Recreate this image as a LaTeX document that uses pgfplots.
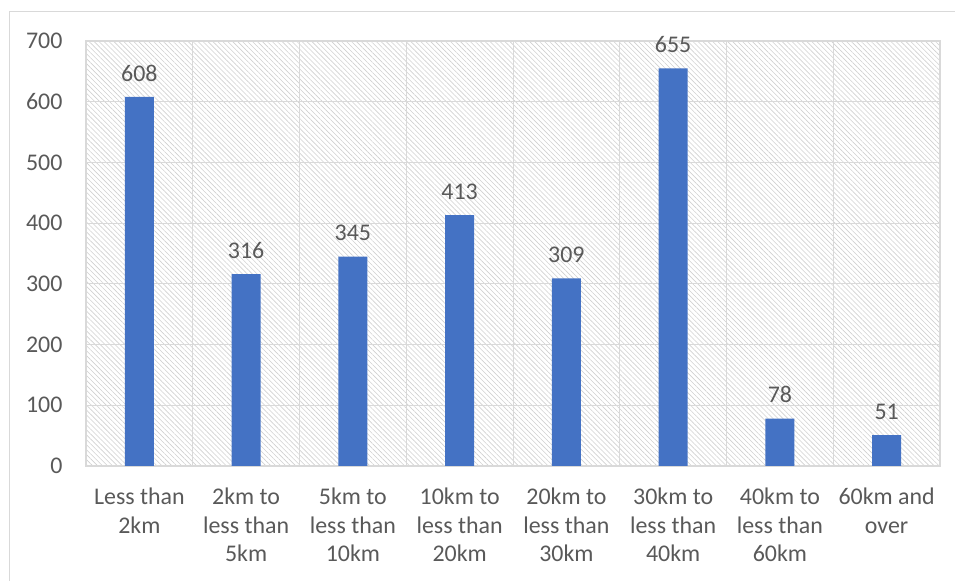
\documentclass[border=0pt]{standalone}
\usepackage{fontspec}
\setmainfont{Carlito}
\usepackage{pgfplots}
\pgfplotsset{compat=1.18}
\usetikzlibrary{patterns.meta}
\definecolor{barblue}{HTML}{4472C4}
\definecolor{txt}{HTML}{595959}
\definecolor{gridc}{HTML}{D9D9D9}
\definecolor{hatchc}{HTML}{D0D0D0}
\begin{document}
\begin{tikzpicture}[x=1bp,y=1bp]
\useasboundingbox (0,0) rectangle (955,581);
\draw[gridc, line width=1bp] (9.5,-5) rectangle (962,569);
\begin{axis}[
  at={(86bp,115bp)}, anchor=south west,
  scale only axis, width=854bp, height=425bp,
  xmin=-0.5, xmax=7.5, ymin=0, ymax=700,
  ytick={0,100,...,700},
  xtick={0,...,7},
  minor xtick={-0.5,0.5,...,7.5},
  xticklabels={Less than\\2km, 2km to\\less than\\5km, 5km to\\less than\\10km, 10km to\\less than\\20km, 20km to\\less than\\30km, 30km to\\less than\\40km, 40km to\\less than\\60km, 60km and\\over},
  xticklabel style={align=center, font=\fontsize{24}{29}\selectfont, text=txt, anchor=north, yshift=-18bp},
  yticklabel style={font=\fontsize{24}{29}\selectfont, text=txt, xshift=-20bp},
  /pgf/number format/assume math mode=true,
  major tick length=0pt, minor tick length=0pt,
  ymajorgrids, xminorgrids,
  grid style={gridc, line width=1bp},
  minor grid style={gridc, line width=1bp},
  axis line style={gridc, line width=1.2bp},
  axis background/.style={pattern={Lines[angle=-45, distance=3.5bp, line width=0.6bp]}, pattern color=hatchc},
  ybar, bar width=29bp,
  nodes near coords,
  nodes near coords style={font=\fontsize{24}{29}\selectfont, text=txt, anchor=south, yshift=12bp},
]
\addplot[fill=barblue, draw=none] coordinates {(0,608) (1,316) (2,345) (3,413) (4,309) (5,655) (6,78) (7,51)};
\end{axis}
\end{tikzpicture}
\end{document}
